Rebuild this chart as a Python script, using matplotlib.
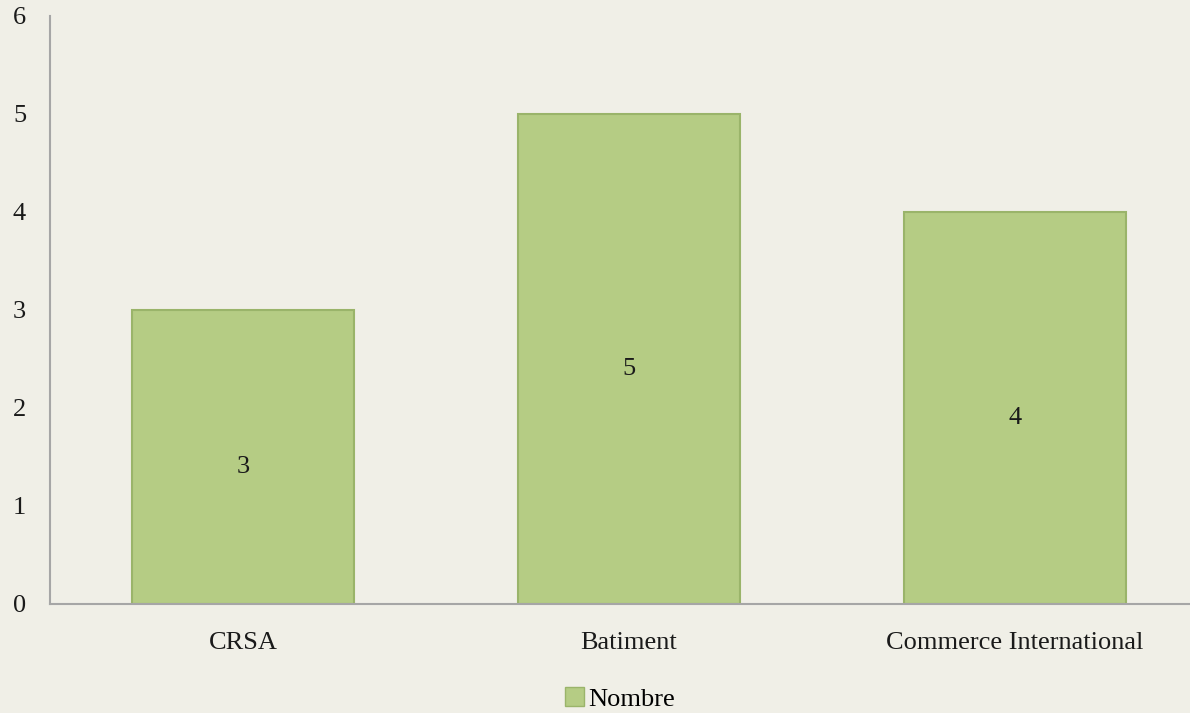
import matplotlib.pyplot as plt
from matplotlib.patches import Patch

categories = ["CRSA", "Batiment", "Commerce International"]
values = [3, 5, 4]
series_name = "Nombre"

bg = "#F0EFE7"
bar_color = "#B5CC84"
edge_color = "#9AB46A"

plt.rcParams["font.family"] = ["Liberation Serif", "DejaVu Serif"]

fig = plt.figure(figsize=(11.9, 7.13), dpi=100, facecolor=bg)
ax = fig.add_axes([50 / 1190, 1 - 604 / 713, 1158 / 1190, 588 / 713])
ax.set_facecolor(bg)

x = list(range(len(categories)))
bars = ax.bar(x, values, width=0.573, color=bar_color, edgecolor=edge_color, linewidth=1.5)

for xi, v in zip(x, values):
    ax.text(xi, v / 2 - 0.1, str(v), ha="center", va="center", fontsize=19, color="#1a1a1a")

ax.set_xlim(-0.5, 2.5)
ax.set_ylim(0, 6)
ax.set_xticks(x)
ax.set_xticklabels(categories, fontsize=19)
ax.set_yticks(range(0, 7))
ax.tick_params(axis="both", length=0, colors="#1a1a1a")
ax.tick_params(axis="y", labelsize=19)
ax.tick_params(axis="x", pad=20)
for lbl in ax.get_yticklabels():
    lbl.set_horizontalalignment("center")
ax.tick_params(axis="y", pad=22)

for s in ["top", "right"]:
    ax.spines[s].set_visible(False)
for s in ["left", "bottom"]:
    ax.spines[s].set_color("#A6A6A6")
    ax.spines[s].set_linewidth(1.5)

handle = Patch(facecolor=bar_color, edgecolor=edge_color, linewidth=1.0)
fig.legend([handle], [series_name], loc="center", bbox_to_anchor=(620 / 1190, 1 - 699 / 713),
           frameon=False, fontsize=19, handlelength=0.7, handleheight=0.7, handletextpad=0.15,
           borderpad=0)

fig.savefig("out.png", dpi=100, facecolor=bg)
